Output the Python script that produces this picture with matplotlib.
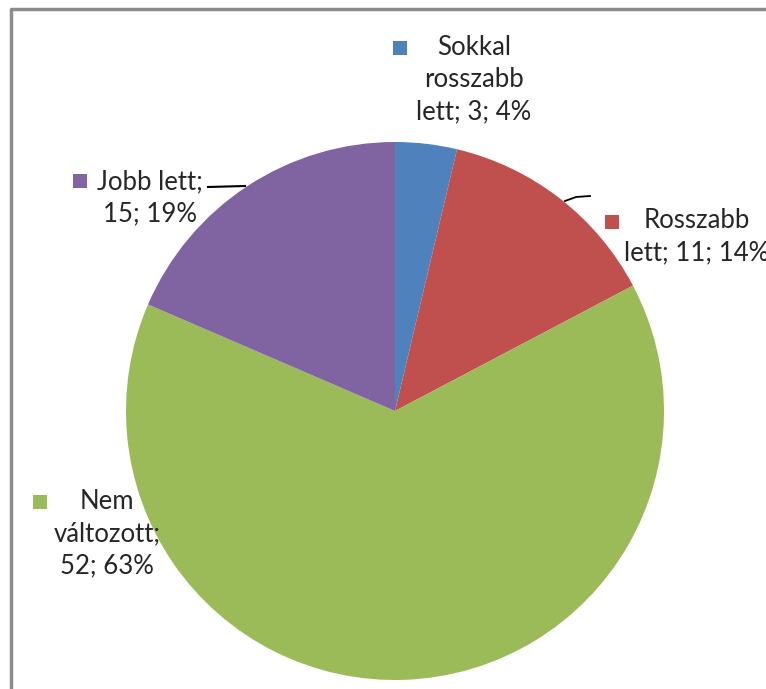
import matplotlib
matplotlib.use("Agg")
import matplotlib.pyplot as plt
from matplotlib.patches import Rectangle

categories = ["Sokkal rosszabb lett", "Rosszabb lett", "Nem változott", "Jobb lett"]
values = [3, 11, 52, 15]
percents = [4, 14, 63, 19]
colors = ["#4F81BD", "#C0504D", "#9BBB59", "#8064A2"]
label_texts = ["Sokkal\nrosszabb\nlett; 3; 4%", "Rosszabb\nlett; 11; 14%", "Nem\nváltozott;\n52; 63%", "Jobb lett;\n15; 19%"]

W, H = 766, 689
fig = plt.figure(figsize=(W / 100, H / 100), dpi=100)
ax = fig.add_axes([0, 0, 1, 1])

def fy(y):
    return H - y

ax.pie(values, colors=colors, startangle=90, counterclock=False,
       center=(395, fy(411)), radius=269, frame=True,
       wedgeprops=dict(linewidth=0))
ax.set_xlim(0, W)
ax.set_ylim(0, H)
ax.set_aspect("equal")
ax.axis("off")

# border
ax.plot([11, 11, W + 5], [-5, fy(9), fy(9)], color="#8c8c8c", lw=2.5, solid_capstyle="butt")

txtc = "#262626"
fam = ["Lato", "DejaVu Sans"]
fs = 18.5
# (text center x, first line center y, square position)
specs = [
    (474, 49, (400, 48)),
    (697, 222, (612, 222)),
    (107, 503, (40, 502)),
    (150, 183, (80, 181)),
]
for (tx, ty, (sx, sy)), t, c in zip(specs, label_texts, colors):
    ax.text(tx, fy(ty - 14), t, ha="center", va="top", fontsize=fs, color=txtc,
            family=fam, linespacing=1.36, multialignment="center")
    ax.add_patch(Rectangle((sx - 7, fy(sy) - 7), 14, 14, color=c, lw=0))

# leader lines
ax.plot([208, 245], [fy(187), fy(186)], color="black", lw=1.5)
ax.plot([565, 576, 590], [fy(201), fy(197), fy(196)], color="black", lw=1.3)

fig.savefig("out.png", dpi=100)
